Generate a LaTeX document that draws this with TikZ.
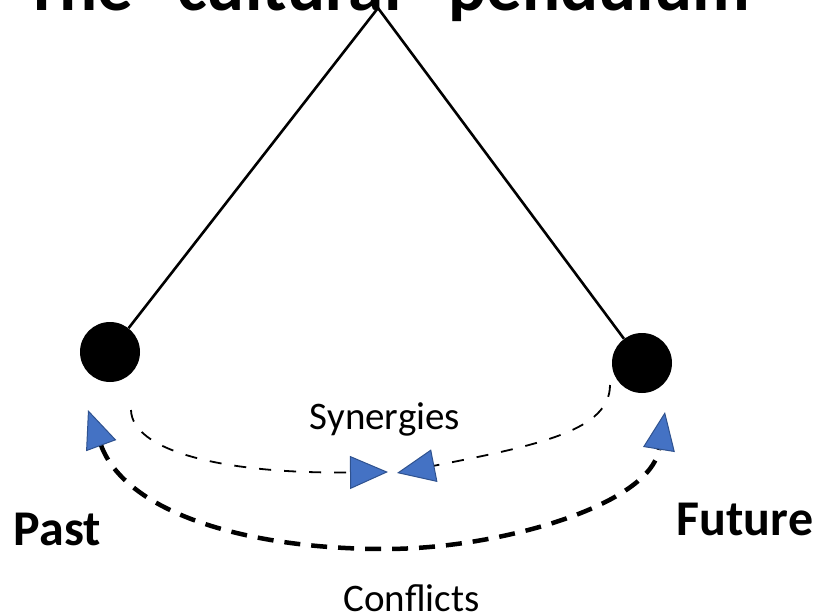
\documentclass[tikz,border=0pt]{standalone}
\usepackage{fontspec}
\setmainfont{Carlito}
\usetikzlibrary{arrows.meta}
\definecolor{tipblue}{HTML}{4472C4}
\definecolor{tipedge}{HTML}{2F528F}
\begin{document}
\begin{tikzpicture}[x=1pt,y=-1pt,
  bob/.style={circle,fill=black,minimum size=60pt,inner sep=0pt},
  cord/.style={line width=2.6pt},
  label/.style={inner sep=0pt,anchor=base},
  labeltext/.style={font=\fontsize{39}{47}\selectfont},
  sidetext/.style={font=\fontsize{50}{60}\selectfont\bfseries},
  synergy/.style={line width=1.8pt,dash pattern=on 12pt off 13pt,
    -{Triangle[length=38pt,width=33pt,fill=tipblue,color=tipedge,line width=1pt]}},
  conflict/.style={line width=4.5pt,dash pattern=on 16pt off 11pt,
    {Triangle[length=38pt,width=32pt,fill=tipblue,color=tipedge,line width=1pt]}-{Triangle[length=38pt,width=32pt,fill=tipblue,color=tipedge,line width=1pt]}}]
\useasboundingbox (0,0) rectangle (823,616);
\clip (0,0) rectangle (823,616);

% heading, only its lower edge falls inside the frame
\node[inner sep=0pt,anchor=base east,font=\fontsize{71}{80}\selectfont\bfseries]
  (title) at (750,10) {The “cultural” pendulum};

% pendulum: pivot, two bobs and their cords
\coordinate (pivot) at (378,8);
\node[bob] (pastbob) at (110,352) {};
\node[bob] (futurebob) at (642,363) {};
\draw[cord] (pivot) -- (pastbob);
\draw[cord] (pivot) -- (futurebob);

% synergies: two arcs meeting in the middle
\coordinate (synL) at (131,410);
\coordinate (synR) at (610,385);
\coordinate (synmidL) at (388,472);
\coordinate (synmidR) at (397,473);
\draw[synergy] (synL) .. controls (132,450) and (220,474) .. (synmidL);
\draw[synergy] (synR) .. controls (610,430) and (540,445) .. (synmidR);
\node[label,labeltext] (synergies) at (385,429) {Synergies};

% conflicts: one wide arc between the two sides
\coordinate (conL) at (88,410);
\coordinate (conB) at (385,549);
\coordinate (conR) at (665,412);
\draw[conflict] (conL) .. controls (125,510) and (240,549) .. (conB)
  .. controls (500,549) and (650,505) .. (conR);
\node[label,labeltext] (conflicts) at (411.5,611) {Conflicts};

% side labels
\node[label,sidetext] (past) at (57.5,545) {Past};
\node[label,sidetext] (future) at (745,535) {Future};
\end{tikzpicture}
\end{document}
